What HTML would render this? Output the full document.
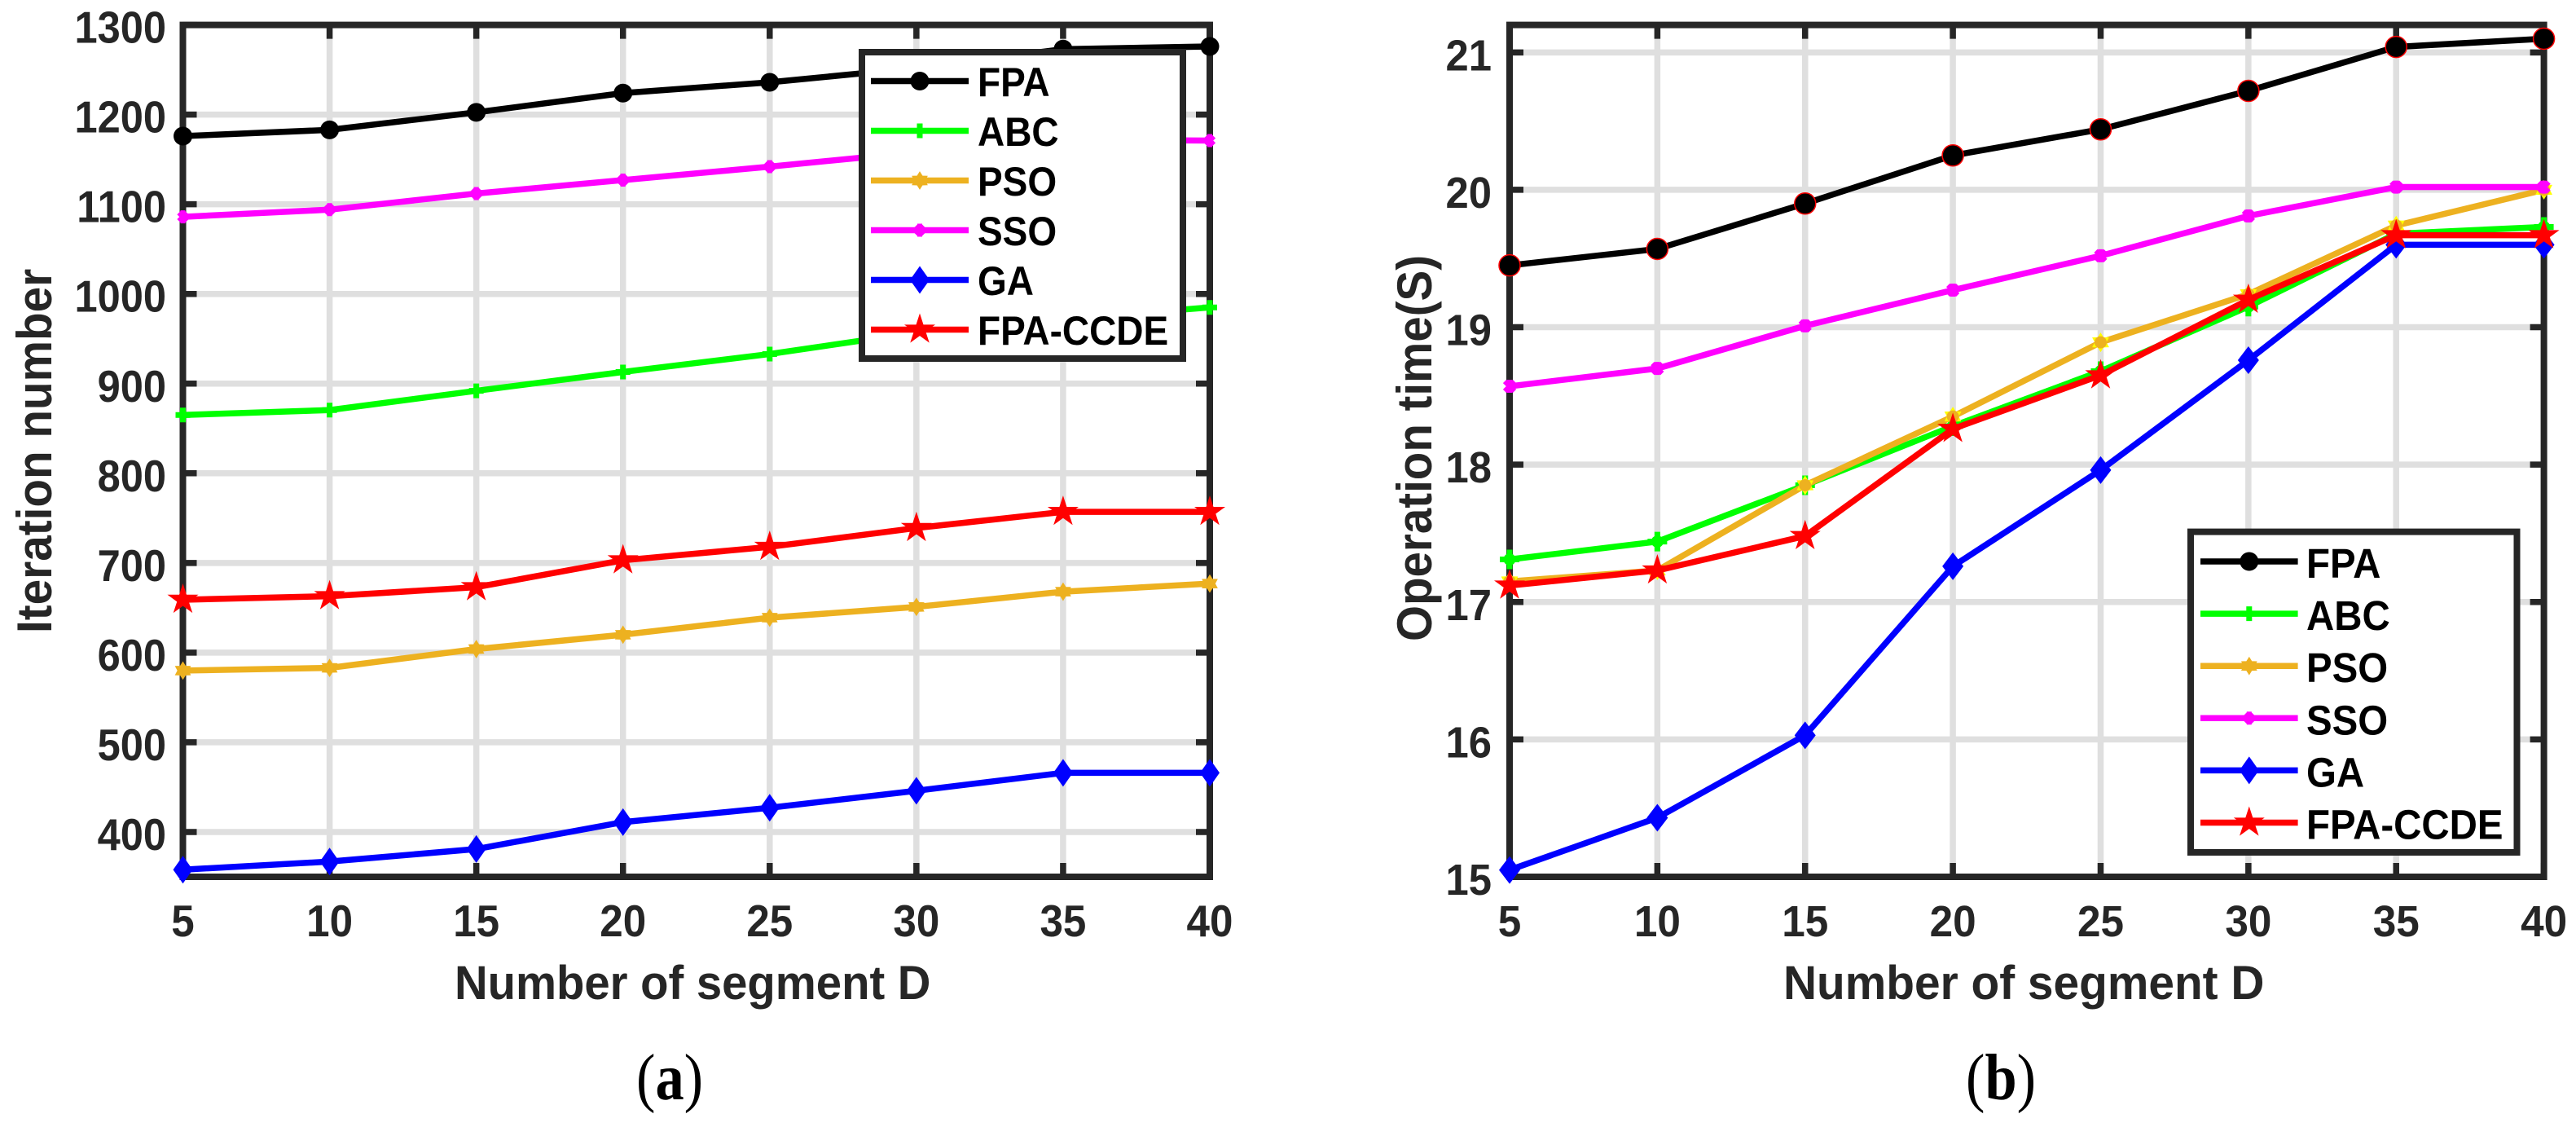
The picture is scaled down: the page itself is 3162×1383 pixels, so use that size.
<!DOCTYPE html>
<html>
<head>
<meta charset="utf-8">
<title>Iteration number and operation time charts</title>
<style>
html,body{margin:0;padding:0;background:#fff;width:3162px;height:1383px;overflow:hidden}
svg{display:block}
text{font-family:"Liberation Sans",sans-serif;font-weight:700}
</style>
</head>
<body>
<svg id="fig" xmlns="http://www.w3.org/2000/svg" width="3162" height="1383" viewBox="0 0 3162 1383"></svg>
<script>
// ----- data -----
const segments = [5, 10, 15, 20, 25, 30, 35, 40];
const seriesNames = ['FPA', 'ABC', 'PSO', 'SSO', 'GA', 'FPA-CCDE'];

const iterationTicks = [400, 500, 600, 700, 800, 900, 1000, 1100, 1200, 1300];
const iterFPA  = [1176, 1183, 1202.5, 1224, 1236, 1252, 1273, 1276];
const iterABC  = [865, 870.5, 892, 913, 933, 957, 972, 985];
const iterPSO  = [580, 583, 604, 620, 639, 651, 668, 677];
const iterSSO  = [1086, 1094, 1112, 1127, 1142, 1158, 1172, 1171];
const iterGA   = [358, 367, 381, 411, 427, 446, 466, 466];
const iterCCDE = [659, 663, 673, 703, 718, 739, 757, 757];

const timeTicks = [15, 16, 17, 18, 19, 20, 21];
const timeFPA  = [19.45, 19.57, 19.90, 20.25, 20.44, 20.72, 21.04, 21.10];
const timeABC  = [17.31, 17.44, 17.85, 18.28, 18.68, 19.15, 19.68, 19.73];
const timePSO  = [17.15, 17.23, 17.85, 18.35, 18.89, 19.24, 19.74, 20.00];
const timeSSO  = [18.57, 18.70, 19.01, 19.27, 19.52, 19.81, 20.02, 20.02];
const timeGA   = [15.05, 15.43, 16.03, 17.26, 17.96, 18.76, 19.60, 19.60];
const timeCCDE = [17.12, 17.23, 17.48, 18.26, 18.65, 19.20, 19.67, 19.67];

// ----- styling -----
const NS = 'http://www.w3.org/2000/svg';
const svg = document.getElementById('fig');
const INK = '#262626', GRID = '#dfdfdf';
const colors = {'FPA':'#000000','ABC':'#00ff00','PSO':'#edb120','SSO':'#ff00ff','GA':'#0000ff','FPA-CCDE':'#ff0000'};

function mk(tag, attrs, parent) {
  const el = document.createElementNS(NS, tag);
  for (const k in attrs) el.setAttribute(k, attrs[k]);
  parent.appendChild(el);
  return el;
}
function label(str, x, y, size, sx, anchor, fill, rot, parent) {
  const el = mk('text', {
    transform: 'translate(' + x + ',' + y + ') rotate(' + rot + ') scale(' + sx + ',1)',
    'font-size': size, 'text-anchor': anchor, fill: fill
  }, parent);
  el.textContent = str;
  return el;
}
function starPoints(R) {
  const p = [];
  for (let i = 0; i < 10; i++) {
    const r = i % 2 ? R * 0.382 : R;
    const a = -Math.PI / 2 + i * Math.PI / 5;
    p.push((r * Math.cos(a)).toFixed(2) + ',' + (r * Math.sin(a)).toFixed(2));
  }
  return p.join(' ');
}
function sixStar(R) {
  const p = [];
  for (let i = 0; i < 12; i++) {
    const r = i % 2 ? R * 0.6 : R;
    const a = -Math.PI / 2 + i * Math.PI / 6;
    p.push((r * Math.cos(a)).toFixed(2) + ',' + (r * Math.sin(a)).toFixed(2));
  }
  return p.join(' ');
}
function marker(name, cx, cy, style, parent) {
  const c = colors[name];
  const g = mk('g', {transform: 'translate(' + cx + ',' + cy + ')'}, parent);
  if (name === 'FPA') {
    mk('circle', style === 'b'
      ? {r: 13, fill: '#000', stroke: '#ff0000', 'stroke-width': 1.5}
      : {r: 11.5, fill: '#000'}, g);
  } else if (name === 'ABC') {
    const h = style === 'b' ? 12 : 9;
    mk('path', {d: 'M' + (-h) + ' 0H' + h + 'M0 ' + (-h) + 'V' + h, stroke: c, 'stroke-width': 7, fill: 'none'}, g);
    if (style === 'b') mk('circle', {r: 7.5, fill: c}, g);
  } else if (name === 'PSO') {
    if (style === 'b') {
      mk('polygon', {points: sixStar(12), fill: '#ffff00'}, g);
      mk('circle', {r: 7.5, fill: c}, g);
    } else {
      mk('polygon', {points: sixStar(9.5), fill: c, stroke: c, 'stroke-width': 2}, g);
    }
  } else if (name === 'SSO') {
    const s = style === 'b' ? 6 : 5;
    mk('path', {d: 'M' + (-s) + ' ' + (-s) + 'L' + s + ' ' + s + 'M' + (-s) + ' ' + s + 'L' + s + ' ' + (-s) + 'M0 -8V8', stroke: c, 'stroke-width': 6, fill: 'none'}, g);
  } else if (name === 'GA') {
    const w = style === 'b' ? 13 : 12;
    mk('polygon', {points: '0,-17 ' + w + ',0 0,17 ' + (-w) + ',0', fill: c}, g);
  } else {
    mk('polygon', {points: starPoints(20), fill: c}, g);
  }
  return g;
}

// ----- panel -----
function drawPanel(cfg) {
  const root = mk('g', {}, svg);
  
  

  const X = v => cfg.left + (v - segments[0]) / (segments[segments.length - 1] - segments[0]) * (cfg.right - cfg.left);
  const Y = v => cfg.top + (cfg.ymax - v) / (cfg.ymax - cfg.ymin) * (cfg.bottom - cfg.top);

  // grid
  const gridG = mk('g', {}, root);
  
  
  segments.forEach(v => {
    const l = mk('line', {x1: X(v), x2: X(v), y1: cfg.top, y2: cfg.bottom, stroke: GRID, 'stroke-width': 7.5}, gridG);
    
    
  });
  cfg.ticks.forEach(v => {
    const l = mk('line', {x1: cfg.left, x2: cfg.right, y1: Y(v), y2: Y(v), stroke: GRID, 'stroke-width': 7.5}, gridG);
    
    
  });

  // axes box + ticks
  const axG = mk('g', {}, root);
  
  
  const box = mk('rect', {x: cfg.left, y: cfg.top, width: cfg.right - cfg.left, height: cfg.bottom - cfg.top, fill: 'none', stroke: INK, 'stroke-width': 8}, axG);
  
  
  segments.forEach(v => {
    const t = mk('path', {d: 'M' + X(v) + ' ' + cfg.top + 'v17M' + X(v) + ' ' + cfg.bottom + 'v-17', stroke: INK, 'stroke-width': 7.5, fill: 'none'}, axG);
    
    
    const tl = label(String(v), X(v), 1149, cfg.tickSize, cfg.xsx, 'middle', INK, 0, axG);
    
    
  });
  cfg.ticks.forEach(v => {
    const t = mk('path', {d: 'M' + cfg.left + ' ' + Y(v) + 'h17M' + cfg.right + ' ' + Y(v) + 'h-17', stroke: INK, 'stroke-width': 7.5, fill: 'none'}, axG);
    
    
    const tl = label(String(v), cfg.ylabelX, Y(v) + 22, cfg.tickSize, cfg.ysx, 'end', INK, 0, axG);
    
    
  });

  // axis titles
  const xt = label('Number of segment D', cfg.xtitleX, 1226, 58, cfg.xtitleSx, 'start', INK, 0, root);
  
  
  const yt = label(cfg.ytitle, cfg.ytitleX, cfg.ytitleY, 60, cfg.ytitleSx, 'start', INK, -90, root);
  
  

  // series
  seriesNames.forEach((name, i) => {
    const vals = cfg.series[i];
    const g = mk('g', {}, root);
    
    
    const pts = vals.map((v, j) => X(segments[j]).toFixed(2) + ',' + Y(v).toFixed(2)).join(' ');
    const line = mk('polyline', {points: pts, fill: 'none', stroke: colors[name], 'stroke-width': 7.5, 'stroke-linejoin': 'miter'}, g);
    
    
    vals.forEach((v, j) => {
      const m = marker(name, X(segments[j]), Y(v), cfg.style, g);
      
      
    });
  });

  // legend
  const L = cfg.legend;
  const lg = mk('g', {}, root);
  
  
  const frame = mk('rect', {x: L.x, y: L.y, width: L.w, height: L.h, fill: '#fff', stroke: INK, 'stroke-width': 8}, lg);
  
  
  seriesNames.forEach((name, i) => {
    const ry = L.rows + i * L.step;
    const e = mk('g', {}, lg);
    
    
    mk('line', {x1: L.lx1, x2: L.lx2, y1: ry, y2: ry, stroke: colors[name], 'stroke-width': 7.5}, e);
    marker(name, (L.lx1 + L.lx2) / 2, ry, 'a', e);
    label(name, L.tx, ry + L.dy, L.size, L.sx, 'start', '#000', 0, e);
  });

  // panel caption
  const cap = mk('text', {
    transform: 'translate(' + cfg.capX + ',1349) scale(0.88,1)',
    'font-size': 80, fill: '#000', 'font-weight': 400
  }, root);
  
  
  cap.setAttribute('style', 'font-family:"Liberation Serif",serif;font-weight:400');
  cap.appendChild(document.createTextNode('('));
  const bold = mk('tspan', {'font-weight': 700}, cap);
  bold.textContent = cfg.capLetter;
  cap.appendChild(document.createTextNode(')'));
}

drawPanel({
  id: 'iteration', style: 'a',
  left: 224.5, right: 1485, top: 30.6, bottom: 1076, ymin: 350, ymax: 1300,
  ticks: iterationTicks, tickSize: 55,
  series: [iterFPA, iterABC, iterPSO, iterSSO, iterGA, iterCCDE],
  xsx: 0.93, ysx: 0.92, ylabelX: 204,
  xtitleX: 558, xtitleSx: 0.97,
  ytitle: 'Iteration number', ytitleX: 63, ytitleY: 777, ytitleSx: 0.945,
  legend: {x: 1058, y: 64, w: 394, h: 376, rows: 99.5, step: 61, lx1: 1069, lx2: 1189, tx: 1200, size: 50, sx: 0.92, dy: 18.5},
  capX: 781, capLetter: 'a'
});
drawPanel({
  id: 'operation-time', style: 'b',
  left: 1853, right: 3122.6, top: 30.6, bottom: 1076, ymin: 15, ymax: 21.2,
  ticks: timeTicks, tickSize: 54,
  series: [timeFPA, timeABC, timePSO, timeSSO, timeGA, timeCCDE],
  xsx: 0.95, ysx: 0.94, ylabelX: 1831,
  xtitleX: 2189, xtitleSx: 0.98,
  ytitle: 'Operation time(S)', ytitleX: 1757, ytitleY: 787, ytitleSx: 0.942,
  legend: {x: 2689, y: 652.6, w: 400.5, h: 393.4, rows: 689, step: 64.1, lx1: 2701, lx2: 2820.6, tx: 2831, size: 51, sx: 0.93, dy: 20},
  capX: 2413, capLetter: 'b'
});
</script>
</body>
</html>
